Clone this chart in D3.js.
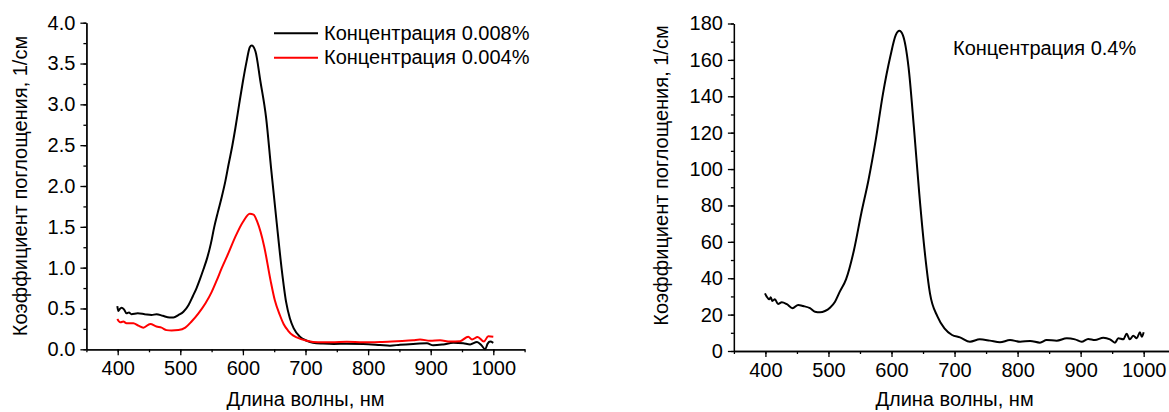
<!DOCTYPE html>
<html>
<head>
<meta charset="utf-8">
<script src="https://cdn.jsdelivr.net/npm/d3@7"></script>
<style>
  body { margin: 0; background: #fff; }
  svg text { font-family: "Liberation Sans", Arial, sans-serif; fill: #000; }
  .axis path, .axis line { stroke: #000; stroke-width: 1.3; }
  .curve { fill: none; stroke-width: 2; stroke-linejoin: round; }
</style>
</head>
<body>
<div id="chart"></div>
<script>
// --- data ---
var xTicks = [400, 500, 600, 700, 800, 900, 1000];
var yTicksLeft = [0, 0.5, 1, 1.5, 2, 2.5, 3, 3.5, 4];
var yTicksRight = [0, 20, 40, 60, 80, 100, 120, 140, 160, 180];

var wlBlack = [399.4, 401, 403, 406, 410, 414, 418, 422, 432, 443, 454, 462, 472, 483, 489, 497, 505, 513, 520, 526,
  531, 537, 543, 549, 554, 560, 566, 572, 577, 583, 588, 594, 600, 606, 611, 614, 620, 628, 637, 645, 654, 662, 669,
  675, 681, 691, 702, 712, 728, 745, 766, 792, 819, 835, 851, 872, 894, 904, 920, 936, 952, 963, 974, 981, 987, 991, 995, 1000];
var absBlack = [0.53, 0.47, 0.49, 0.51, 0.49, 0.44, 0.45, 0.43, 0.44, 0.43, 0.42, 0.43, 0.41, 0.39, 0.39, 0.42, 0.46, 0.54, 0.65, 0.75,
  0.85, 0.98, 1.12, 1.30, 1.49, 1.68, 1.86, 2.06, 2.26, 2.49, 2.71, 3.00, 3.28, 3.53, 3.70, 3.72, 3.65, 3.28, 2.84, 2.22, 1.55, 0.98, 0.58,
  0.38, 0.26, 0.155, 0.105, 0.08, 0.07, 0.065, 0.068, 0.065, 0.053, 0.045, 0.056, 0.066, 0.073, 0.049, 0.06, 0.08, 0.073, 0.06, 0.09, 0.05, 0.0, 0.07, 0.095, 0.08];

var wlRed = [399.4, 404, 409, 414, 425, 433, 441, 452, 462, 470, 478, 486, 497, 508, 518, 529, 540, 550, 558,
  566, 577, 588, 600, 611, 617, 623, 634, 644, 651, 659, 665, 672, 680, 686, 702, 720, 742, 766, 792, 819, 846, 872, 883,
  899, 915, 931, 947, 960, 966, 975, 985, 992, 1000];
var absRed = [0.37, 0.33, 0.34, 0.32, 0.32, 0.29, 0.265, 0.31, 0.28, 0.265, 0.235, 0.23, 0.235, 0.265, 0.34, 0.44, 0.56, 0.70, 0.84,
  0.99, 1.18, 1.38, 1.56, 1.66, 1.65, 1.56, 1.26, 0.85, 0.60, 0.42, 0.31, 0.23, 0.17, 0.145, 0.105, 0.085, 0.085, 0.093, 0.085, 0.09, 0.10, 0.11, 0.12,
  0.105, 0.11, 0.095, 0.10, 0.155, 0.12, 0.15, 0.095, 0.16, 0.155];

var wlHigh = [399.3, 402, 406, 408.4, 411, 415, 420, 426, 434, 443, 452, 460, 470.7, 478.6, 486.6, 494.5, 502.4, 510.4, 518, 528,
  540.5, 552, 563.5, 575, 586.5, 598, 606.7, 612.5, 618, 627, 635.5, 644, 653, 661, 673, 684, 696, 708.6, 724.5, 740, 756,
  772, 788, 804, 820, 835.5, 846, 862, 878, 891, 901.6, 912, 922.7, 936, 946.5, 954.5, 959.7, 967.6, 973, 978, 983.6, 989, 994, 997, 1000];
var absHigh = [31.7, 29.9, 28.4, 29.5, 27.5, 28.4, 25.8, 26.8, 25.7, 23.5, 25.3, 24.7, 23.5, 21.6, 21.3, 22, 23.8, 27.1, 32.6, 39.5,
  55.5, 75.6, 94, 116, 141.5, 161.7, 173.6, 176, 173.6, 156, 123, 86.6, 53.6, 31.7, 18.9, 12.4, 8.8, 7.5, 5.1, 6.4, 5.7,
  4.8, 6, 5.1, 5.5, 4.6, 6, 5.7, 7, 6.4, 5.1, 6.6, 6, 7.3, 6.4, 4.6, 7, 6.4, 9.5, 6.4, 8.4, 7, 10.3, 7.8, 10.3];

var legendLabels = ["Концентрация 0.008%", "Концентрация 0.004%"];
var noteLabel = "Концентрация 0.4%";
var xTitle = "Длина волны, нм";
var yTitle = "Коэффициент поглощения, 1/см";

var W = 1169, H = 412, fs = 20;
var svg = d3.select('#chart').append('svg').attr('width', W).attr('height', H);

function zip(xs, ys){ return xs.map(function(d, i){ return [d, ys[i]]; }); }
function range(a, b, s){ return d3.range(a, b + s / 2, s); }

function panel(opt){
  var x = d3.scaleLinear().domain([350, 1050]).range(opt.xr),
      y = d3.scaleLinear().domain(opt.yd).range(opt.yr),
      g = svg.append('g');

  // minor ticks first, then the major ones with labels
  g.append('g').attr('class', 'axis').attr('transform', 'translate(0,' + opt.yr[0] + ')')
    .call(d3.axisBottom(x).tickValues(range(350, 1050, 50)).tickSize(3).tickSizeOuter(0).tickFormat(''));
  g.append('g').attr('class', 'axis').attr('transform', 'translate(0,' + opt.yr[0] + ')')
    .call(d3.axisBottom(x).tickValues(xTicks).tickSize(6).tickPadding(6).tickSizeOuter(0).tickFormat(d3.format('d')))
    .selectAll('text').attr('font-size', fs);
  g.append('g').attr('class', 'axis').attr('transform', 'translate(' + opt.xr[0] + ',0)')
    .call(d3.axisLeft(y).tickValues(opt.yMinor).tickSize(3).tickSizeOuter(0).tickFormat(''));
  g.append('g').attr('class', 'axis').attr('transform', 'translate(' + opt.xr[0] + ',0)')
    .call(d3.axisLeft(y).tickValues(opt.yTicks).tickSize(6).tickPadding(5).tickSizeOuter(0).tickFormat(opt.yFmt))
    .selectAll('text').attr('font-size', fs);
  g.selectAll('.axis text').attr('font-family', '"Liberation Sans", Arial, sans-serif').attr('fill', '#000');

  var line = d3.line().x(function(d){ return x(d[0]); }).y(function(d){ return y(d[1]); }).curve(d3.curveMonotoneX);
  opt.series.forEach(function(s){
    g.append('path').attr('class', 'curve').attr('stroke', s.color).attr('d', line(s.data));
  });

  g.append('text').attr('x', (opt.xr[0] + opt.xr[1]) / 2).attr('y', opt.xTitleY)
    .attr('text-anchor', 'middle').attr('font-size', fs).text(xTitle);
  g.append('text').attr('transform', 'translate(' + opt.yTitleX + ',' + opt.yTitleMid + ') rotate(-90)')
    .attr('text-anchor', 'middle').attr('font-size', fs).text(yTitle);
  return {x: x, y: y, g: g};
}

var left = panel({
  xr: [86.4, 524.6], yr: [349.3, 22.7], yd: [0, 4],
  yTicks: yTicksLeft, yMinor: range(0, 4, 0.25), yFmt: d3.format('.1f'),
  xTitleY: 406, yTitleX: 27, yTitleMid: 186,
  series: [{color: '#000', data: zip(wlBlack, absBlack)}, {color: '#f00', data: zip(wlRed, absRed)}]
});

var right = panel({
  xr: [733.9, 1175.2], yr: [351, 23.5], yd: [0, 180],
  yTicks: yTicksRight, yMinor: range(0, 180, 10), yFmt: d3.format('d'),
  xTitleY: 406, yTitleX: 668, yTitleMid: 175.5,
  series: [{color: '#000', data: zip(wlHigh, absHigh)}]
});

// legend of the left panel
var leg = left.g.append('g');
leg.selectAll('line').data(legendLabels).enter().append('line')
  .attr('x1', 274).attr('x2', 318)
  .attr('y1', function(d, i){ return 33.3 + i * 24.4; }).attr('y2', function(d, i){ return 33.3 + i * 24.4; })
  .attr('stroke', function(d, i){ return i ? '#f00' : '#000'; }).attr('stroke-width', 2);
leg.selectAll('text').data(legendLabels).enter().append('text')
  .attr('x', 324).attr('y', function(d, i){ return 40 + i * 24.4; })
  .attr('font-size', fs).text(function(d){ return d; });

// note of the right panel
right.g.append('text').attr('x', 953).attr('y', 55).attr('font-size', fs).text(noteLabel);
</script>
</body>
</html>
